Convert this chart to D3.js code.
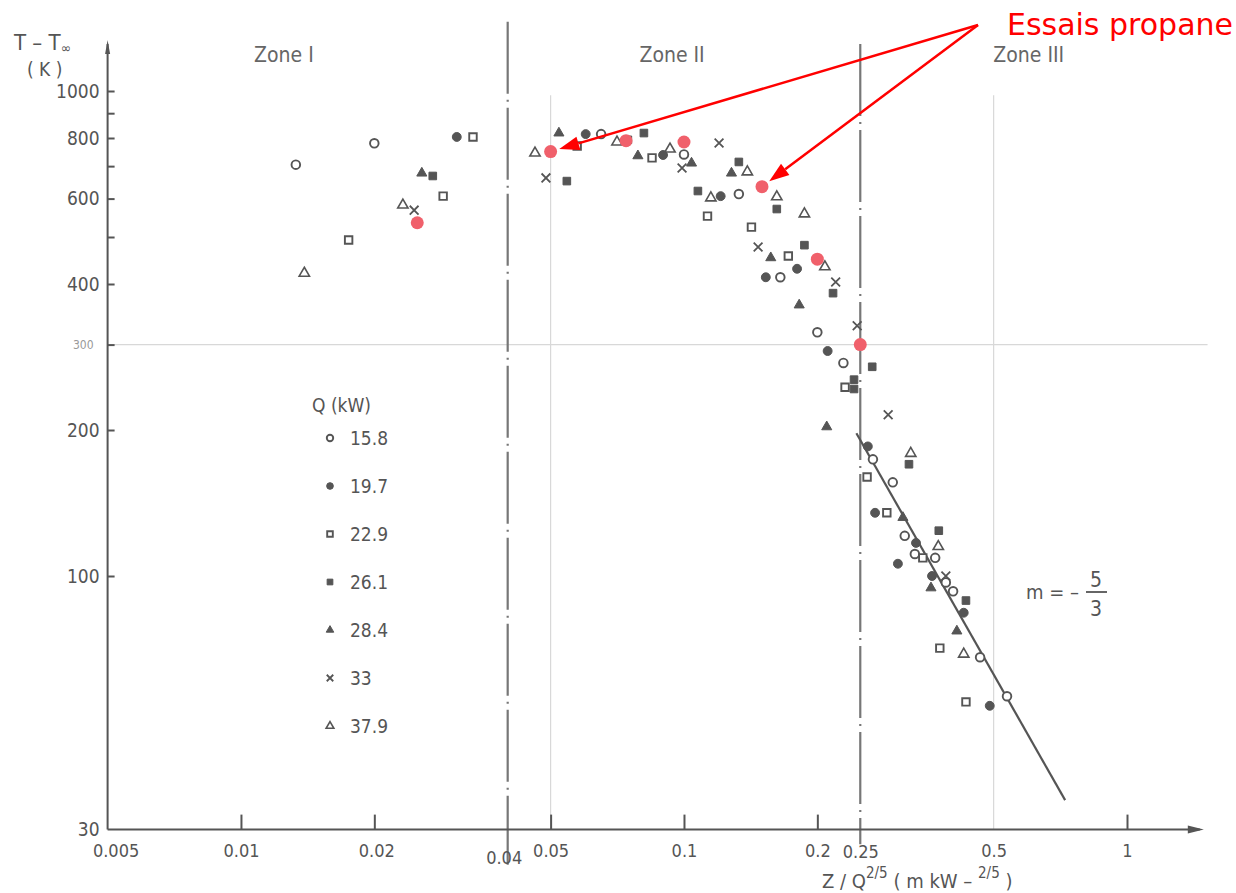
<!DOCTYPE html>
<html>
<head>
<meta charset="utf-8">
<script src="https://cdn.jsdelivr.net/npm/d3@7"></script>
<style>
  body { margin: 0; background: #fff; }
  svg { display: block; font-family: "DejaVu Sans", sans-serif; }
  .cond { font-family: "DejaVu Sans Condensed", "Liberation Sans Narrow", "DejaVu Sans", sans-serif; font-stretch: condensed; }
</style>
</head>
<body>
<svg id="chart" width="1236" height="893"></svg>
<script>
// Centreline temperature rise vs. reduced height Z/Q^(2/5), by heat release rate Q (kW)
const seriesLabels = ["15.8", "19.7", "22.9", "26.1", "28.4", "33", "37.9"];
const seriesShapes = ["circleOpen", "circleFilled", "squareOpen", "squareFilled", "triangleFilled", "cross", "triangleOpen"];

// [Z/Q^(2/5), T - T∞]
const q158 = [[0.020, 780], [0.0133, 705], [0.065, 815], [0.100, 740], [0.133, 613], [0.165, 413],
              [0.200, 318], [0.229, 275], [0.267, 174], [0.296, 156], [0.315, 121], [0.332, 111],
              [0.369, 109], [0.390, 97], [0.405, 93], [0.466, 68], [0.536, 56.5]];
const q197 = [[0.0307, 804], [0.060, 815], [0.0897, 738], [0.121, 607], [0.180, 430], [0.153, 413],
              [0.211, 291], [0.260, 185], [0.270, 135], [0.334, 117], [0.304, 106], [0.363, 100],
              [0.428, 84], [0.490, 54]];
const q229 = [[0.0334, 804], [0.0286, 607], [0.0175, 493], [0.0574, 770], [0.0847, 728], [0.113, 552],
              [0.142, 524], [0.172, 457], [0.231, 245], [0.259, 160], [0.287, 135], [0.346, 109],
              [0.378, 71], [0.433, 55]];
const q261 = [[0.0271, 668], [0.0544, 652], [0.0747, 793], [0.0812, 819], [0.133, 714], [0.1075, 622],
              [0.162, 571], [0.187, 481], [0.217, 383], [0.266, 270], [0.242, 254], [0.242, 243],
              [0.322, 170], [0.376, 124], [0.433, 89]];
const q284 = [[0.0256, 677], [0.0522, 819], [0.0787, 735], [0.104, 710], [0.128, 677], [0.157, 453],
              [0.182, 362], [0.210, 203], [0.312, 132], [0.361, 94.5], [0.413, 77]];
const q330 = [[0.0246, 568], [0.0488, 662], [0.099, 694], [0.120, 781], [0.147, 477], [0.220, 404],
              [0.246, 328], [0.289, 215], [0.390, 100]];
const q379 = [[0.0232, 582], [0.0139, 421], [0.0461, 745], [0.0706, 785], [0.093, 759], [0.139, 681],
              [0.115, 602], [0.162, 605], [0.187, 558], [0.208, 434], [0.325, 179], [0.375, 115],
              [0.428, 69]];
const seriesValues = [q158, q197, q229, q261, q284, q330, q379];

// Propane runs
const propane = [[0.025, 535], [0.050, 750], [0.074, 790], [0.100, 785], [0.150, 635], [0.200, 450], [0.250, 300]];
const propaneArrowTargets = [1, 4];

// Plume-region fit, slope m = -5/3
const fitLine = [[0.245, 197], [0.725, 34.5]];

// Axis ticks and labels
const yTickValues = [30, 100, 200, 300, 400, 500, 600, 700, 800, 900, 1000];
const yTickLabels = { 30: "30", 100: "100", 200: "200", 300: "300", 400: "400", 600: "600", 800: "800", 1000: "1000" };
const xTickMarks = [0.01, 0.02, 0.05, 0.1, 0.2, 1];
const xTickLabels = [0.005, 0.01, 0.02, 0.04, 0.05, 0.1, 0.2, 0.25, 0.5, 1];
const zoneBounds = [0.04, 0.25];
const zoneNames = [["Zone I", 0.0125], ["Zone II", 0.094], ["Zone III", 0.6]];

const svg = d3.select("#chart");
const x = d3.scaleLog().domain([0.005, 1]).range([107.6, 1127]);
const y = d3.scaleLog().domain([30, 1000]).range([829.6, 91]);
const ink = "#555";

// light reference lines
const grid = svg.append("g").attr("stroke", "#d8d8d8").attr("stroke-width", 1.2);
[0.05, 0.5].forEach(v => grid.append("line")
  .attr("x1", x(v)).attr("x2", x(v)).attr("y1", y(980)).attr("y2", y(30)));
grid.append("line").attr("x1", x(0.005)).attr("x2", x(1.52)).attr("y1", y(300)).attr("y2", y(300));

// zone boundaries (dash-dot)
const zb = svg.append("g").attr("stroke", "#777").attr("stroke-width", 2.2)
  .attr("stroke-dasharray", "72 6 2 6").attr("fill", "none");
zb.append("line").attr("x1", x(zoneBounds[0])).attr("x2", x(zoneBounds[0])).attr("y1", y(1390)).attr("y2", y(25.4));
zb.append("line").attr("x1", x(zoneBounds[1])).attr("x2", x(zoneBounds[1])).attr("y1", y(1250)).attr("y2", y(28));

// axes lines with arrows
const axes = svg.append("g").attr("stroke", ink).attr("stroke-width", 2).attr("fill", "none");
axes.append("line").attr("x1", x(0.005)).attr("x2", x(0.005)).attr("y1", y(30)).attr("y2", y(1250));
axes.append("line").attr("x1", x(0.005)).attr("x2", x(1.46)).attr("y1", y(30)).attr("y2", y(30));
svg.append("path").attr("fill", ink)
  .attr("d", `M${x(0.005)},${y(1250) - 4} l-2.5,14 l5,0 Z`);
svg.append("path").attr("fill", ink)
  .attr("d", `M${x(1.46) + 4},${y(30)} l-16,-4 l0,8 Z`);

// y axis ticks (pointing inward) and labels
const yAxis = d3.axisLeft(y).tickValues(yTickValues).tickSize(-7).tickPadding(8)
  .tickFormat(d => yTickLabels[d] || "");
const gy = svg.append("g").attr("transform", `translate(${x(0.005)},0)`).call(yAxis);
gy.select(".domain").remove();
gy.selectAll(".tick line").attr("stroke", ink).attr("stroke-width", 2);
gy.selectAll(".tick text").attr("class", "cond").attr("font-size", 19).attr("fill", ink);
gy.selectAll(".tick").filter(d => d === 300).select("text")
  .attr("font-size", 12).attr("fill", "#999").attr("x", -14);
gy.selectAll(".tick").filter(d => d === 30).select("line").remove();

// x axis ticks (pointing up)
const xAxisTicks = d3.axisBottom(x).tickValues(xTickMarks).tickSize(-15).tickFormat("");
const gxt = svg.append("g").attr("transform", `translate(0,${y(30)})`).call(xAxisTicks);
gxt.select(".domain").remove();
gxt.selectAll(".tick line").attr("stroke", ink).attr("stroke-width", 2);

const xAxisLabels = d3.axisBottom(x).tickValues(xTickLabels).tickSize(0).tickPadding(15)
  .tickFormat(d => String(d));
const gxl = svg.append("g").attr("transform", `translate(0,${y(30)})`).call(xAxisLabels);
gxl.select(".domain").remove();
gxl.selectAll(".tick text").attr("class", "cond").attr("font-size", 18).attr("fill", ink);
gxl.selectAll(".tick").filter(d => d === 0.005).select("text").attr("x", 8);
gxl.selectAll(".tick").filter(d => d === 0.04).select("text").attr("x", -4).attr("y", 22);
gxl.selectAll(".tick").filter(d => d === 0.25).select("text").attr("y", 16);
gxl.selectAll(".tick").filter(d => d === 0.02).select("text").attr("x", 2);

// axis titles
const yt = svg.append("text").attr("class", "cond").attr("x", 14).attr("y", 50).attr("font-size", 22).attr("fill", ink);
yt.append("tspan").text("T – T");
yt.append("tspan").attr("font-size", 14).attr("dy", 3).text("∞");
svg.append("text").attr("class", "cond").attr("x", 27).attr("y", 76).attr("font-size", 19).attr("fill", ink)
  .text("( K )");

const xt = svg.append("text").attr("class", "cond").attr("x", 822).attr("y", 888).attr("font-size", 20).attr("fill", ink);
xt.append("tspan").text("Z / Q");
xt.append("tspan").attr("dy", -10).attr("font-size", 15).text("2/5");
xt.append("tspan").attr("dy", 10).text(" ( m  kW – ");
xt.append("tspan").attr("dy", -10).attr("font-size", 15).text("2/5");
xt.append("tspan").attr("dy", 10).text(" )");

// zone names
svg.append("g").selectAll("text").data(zoneNames).join("text")
  .attr("class", "cond")
  .attr("x", d => x(d[1])).attr("y", 62).attr("text-anchor", "middle")
  .attr("font-size", 21).attr("fill", "#666")
  .text(d => d[0]);

// marker shapes
const symTimes = d3.symbolTimes || d3.symbolCross;
function marker(sel, shape, scale) {
  const k = scale || 1;
  const def = {
    circleOpen:     { type: d3.symbolCircle,   size: 58, fill: "#fff", stroke: ink, sw: 1.9 },
    circleFilled:   { type: d3.symbolCircle,   size: 62, fill: ink,    stroke: ink, sw: 1 },
    squareOpen:     { type: d3.symbolSquare,   size: 56, fill: "#fff", stroke: ink, sw: 1.9 },
    squareFilled:   { type: d3.symbolSquare,   size: 58, fill: ink,    stroke: ink, sw: 1 },
    triangleFilled: { type: d3.symbolTriangle, size: 44, fill: ink,    stroke: ink, sw: 1 },
    triangleOpen:   { type: d3.symbolTriangle, size: 46, fill: "#fff", stroke: ink, sw: 1.6 },
    cross:          { type: symTimes,          size: 52, fill: "none", stroke: ink, sw: 1.8 }
  }[shape];
  sel.attr("d", d3.symbol().type(def.type).size(def.size * k * k)())
    .attr("fill", def.fill).attr("stroke", def.stroke).attr("stroke-width", def.sw);
}

// fit line
svg.append("path").datum(fitLine)
  .attr("d", d3.line().x(d => x(d[0])).y(d => y(d[1])))
  .attr("stroke", ink).attr("stroke-width", 2.2).attr("fill", "none");

// data points
const pts = svg.append("g");
seriesValues.forEach((vals, i) => {
  pts.append("g").selectAll("path").data(vals).join("path")
    .attr("transform", d => `translate(${x(d[0])},${y(d[1])})`)
    .call(marker, seriesShapes[i]);
});

// propane points
svg.append("g").selectAll("circle").data(propane).join("circle")
  .attr("cx", d => x(d[0])).attr("cy", d => y(d[1])).attr("r", 6.5)
  .attr("fill", "#f0606b");

// legend
const lg = svg.append("g");
lg.append("text").attr("class", "cond").attr("x", 312).attr("y", 412).attr("font-size", 19).attr("fill", ink)
  .text("Q (kW)");
const legendRow = d3.scaleLinear().domain([0, 6]).range([438, 726]);
seriesLabels.forEach((lab, i) => {
  lg.append("path").attr("transform", `translate(330,${legendRow(i)})`).call(marker, seriesShapes[i], 0.75);
  lg.append("text").attr("class", "cond").attr("x", 350).attr("y", legendRow(i) + 7).attr("font-size", 19).attr("fill", ink)
    .text(lab);
});

// slope annotation
const sl = svg.append("g").attr("fill", ink);
sl.append("text").attr("class", "cond").attr("x", 1026).attr("y", 599).attr("font-size", 20).text("m = –");
sl.append("text").attr("class", "cond").attr("x", 1096).attr("y", 587).attr("font-size", 21).attr("text-anchor", "middle").text("5");
sl.append("line").attr("x1", 1086).attr("x2", 1107).attr("y1", 592).attr("y2", 592)
  .attr("stroke", ink).attr("stroke-width", 1.8);
sl.append("text").attr("class", "cond").attr("x", 1096).attr("y", 616).attr("font-size", 21).attr("text-anchor", "middle").text("3");

// "Essais propane" callout
const red = "#ff0000";
svg.append("text").attr("x", 1233).attr("y", 35).attr("text-anchor", "end")
  .attr("font-size", 30).attr("fill", red).text("Essais propane");
const origin = [978, 25];
propaneArrowTargets.forEach(idx => {
  const p = propane[idx];
  const px = x(p[0]), py = y(p[1]);
  const dx = origin[0] - px, dy = origin[1] - py;
  const len = Math.hypot(dx, dy);
  const ux = dx / len, uy = dy / len;
  const tipX = px + ux * 9, tipY = py + uy * 9;
  const baseX = tipX + ux * 20, baseY = tipY + uy * 20;
  svg.append("line").attr("x1", origin[0]).attr("y1", origin[1]).attr("x2", baseX).attr("y2", baseY)
    .attr("stroke", red).attr("stroke-width", 2.5);
  const nx = -uy * 7, ny = ux * 7;
  svg.append("path").attr("fill", red)
    .attr("d", `M${tipX},${tipY} L${baseX + nx},${baseY + ny} L${baseX - nx},${baseY - ny} Z`);
});
</script>
</body>
</html>
